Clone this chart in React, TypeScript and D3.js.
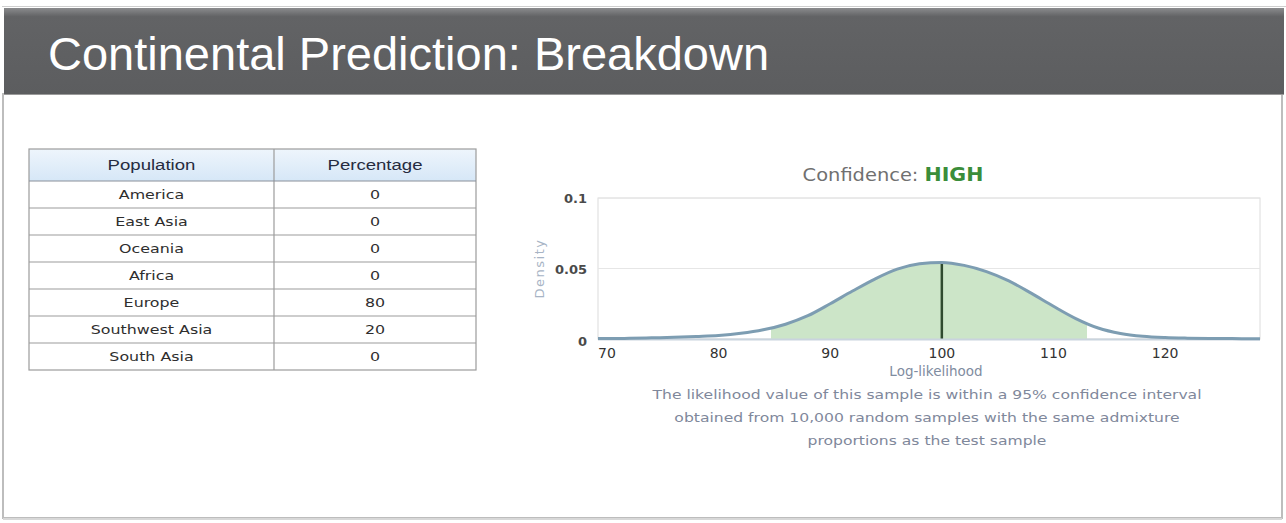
import React from "react";
import * as d3 from "d3";

// table data
const populations = ["America", "East Asia", "Oceania", "Africa", "Europe", "Southwest Asia", "South Asia"];
const percentages = [0, 0, 0, 0, 80, 20, 0];
const tableHeaders = ["Population", "Percentage"];

// density curve
const logLikelihood = [69.2, 70, 72, 74, 76, 78, 80, 82, 84, 86, 88, 90, 92, 94, 96, 98, 100, 102, 104, 106, 108, 110, 112, 114, 116, 118, 120, 122, 124, 126, 128, 128.5];
const density = [0.0003, 0.0003, 0.0005, 0.0008, 0.0012, 0.0018, 0.0025, 0.004, 0.0065, 0.0105, 0.0165, 0.025, 0.034, 0.0425, 0.0495, 0.0533, 0.0543, 0.0522, 0.0478, 0.0412, 0.0325, 0.0232, 0.0145, 0.0078, 0.0039, 0.0019, 0.001, 0.0006, 0.0004, 0.0003, 0.0002, 0.0002];
const ciBounds = [84.7, 113];
const sampleValue = 100;

const xTicks = [70, 80, 90, 100, 110, 120];
const yTicks = [0, 0.05, 0.1];
const yTickLabels = ["0", "0.05", "0.1"];

const captionLines = [
  "The likelihood value of this sample is within a 95% confidence interval",
  "obtained from 10,000 random samples with the same admixture",
  "proportions as the test sample",
];

const W = 1286;
const H = 523;
const plot = { left: 598, right: 1260, top: 198, bottom: 339 };
const table = { left: 29, right: 476, split: 274, top: 149, headerH: 32, rowH: 27 };

const sans = "'DejaVu Sans', Verdana, sans-serif";
const arial = "'Liberation Sans', Arial, sans-serif";

// the screenshot is a little stretched sideways, so the small texts get widened
const Wide = ({ x, y, sx = 1.2, children, ...rest }: any) => (
  <text transform={`translate(${x},${y}) scale(${sx},1)`} textAnchor="middle" {...rest}>
    {children}
  </text>
);

const App = () => {
  const x = d3.scaleLinear().domain([69.2, 128.5]).range([plot.left, plot.right]);
  const y = d3.scaleLinear().domain([0, 0.1]).range([plot.bottom, plot.top]);

  const pts = logLikelihood.map((v, i) => [v, density[i]] as [number, number]);
  const line = d3
    .line<[number, number]>()
    .x(d => x(d[0]))
    .y(d => y(d[1]))
    .curve(d3.curveMonotoneX);
  const area = d3
    .area<[number, number]>()
    .x(d => x(d[0]))
    .y0(y(0))
    .y1(d => y(d[1]))
    .curve(d3.curveMonotoneX);

  const sampleDensity = density[logLikelihood.indexOf(sampleValue)];

  const rowY = d3
    .scaleBand()
    .domain(populations)
    .range([table.top + table.headerH, table.top + table.headerH + populations.length * table.rowH]);
  const tableBottom = rowY.range()[1];
  const colCenters = [(table.left + table.split) / 2, (table.split + table.right) / 2];

  return (
    <svg width={W} height={H} style={{ position: "absolute", left: 0, top: 0, background: "#fff" }}>
      <defs>
        <linearGradient id="bar" x1="0" y1="0" x2="0" y2="1">
          <stop offset="0" stopColor="#8a8b8d" />
          <stop offset="0.1" stopColor="#626365" />
          <stop offset="1" stopColor="#5c5d5f" />
        </linearGradient>
        <linearGradient id="hdr" x1="0" y1="0" x2="0" y2="1">
          <stop offset="0" stopColor="#eef5fc" />
          <stop offset="1" stopColor="#d6e7f7" />
        </linearGradient>
        <clipPath id="ci">
          <rect x={x(ciBounds[0])} y={plot.top} width={x(ciBounds[1]) - x(ciBounds[0])} height={plot.bottom - plot.top} />
        </clipPath>
      </defs>

      {/* frame */}
      <line x1={2} x2={W} y1={6.5} y2={6.5} stroke="#cfcfcf" />
      <rect x={3} y={94} width={1279} height={424} fill="#fff" stroke="#bdbdbd" strokeWidth={2} />
      <line x1={3} x2={1282} y1={519} y2={519} stroke="#d8d8d8" strokeWidth={2} />
      <rect x={4} y={8} width={1280} height={86} fill="url(#bar)" />
      <line x1={4} x2={1284} y1={94.5} y2={94.5} stroke="#9a9a9a" />
      <text x={48} y={70} fill="#fff" fontFamily={arial} fontSize={47}>
        Continental Prediction: Breakdown
      </text>

      {/* table */}
      <rect x={table.left} y={table.top} width={table.right - table.left} height={table.headerH} fill="url(#hdr)" />
      <g fontFamily={arial} fontSize={15} fill="#262b40">
        {tableHeaders.map((h, i) => (
          <Wide key={h} x={colCenters[i]} y={table.top + table.headerH / 2 + 5} sx={1.24}>
            {h}
          </Wide>
        ))}
      </g>
      <g fontFamily={sans} fontSize={13} fill="#2e2e2e">
        {populations.map((p, i) => (
          <g key={p}>
            <Wide x={colCenters[0]} y={(rowY(p) as number) + table.rowH / 2 + 4.5} sx={1.22}>
              {p}
            </Wide>
            <Wide x={colCenters[1]} y={(rowY(p) as number) + table.rowH / 2 + 4.5} sx={1.22}>
              {percentages[i]}
            </Wide>
          </g>
        ))}
      </g>
      <g stroke="#9c9c9c" strokeWidth={1.2} fill="none">
        <rect x={table.left} y={table.top} width={table.right - table.left} height={tableBottom - table.top} />
        <line x1={table.split} x2={table.split} y1={table.top} y2={tableBottom} />
        <line x1={table.left} x2={table.right} y1={table.top + table.headerH} y2={table.top + table.headerH} stroke="#8a9099" />
        {populations.slice(1).map(p => (
          <line key={p} x1={table.left} x2={table.right} y1={rowY(p)} y2={rowY(p)} />
        ))}
      </g>

      {/* chart title */}
      <Wide x={893} y={181} sx={1.08} fontFamily={sans} fontSize={18}>
        <tspan fill="#707070">Confidence: </tspan>
        <tspan fill="#3a8d3a" fontWeight="bold" fontSize={19}>HIGH</tspan>
      </Wide>

      {/* plot frame and grid */}
      <rect x={plot.left} y={plot.top} width={plot.right - plot.left} height={plot.bottom - plot.top} fill="none" stroke="#dcdcdc" />
      {yTicks.map(t => (
        <line key={t} x1={plot.left} x2={plot.right} y1={y(t)} y2={y(t)} stroke="#e6e6e6" />
      ))}

      {/* density */}
      <path d={area(pts) || ""} fill="#cce5c8" clipPath="url(#ci)" />
      <line x1={x(sampleValue)} x2={x(sampleValue)} y1={y(0)} y2={y(sampleDensity)} stroke="#2f4a2f" strokeWidth={2.5} />
      <line x1={plot.left} x2={plot.right} y1={plot.bottom + 0.5} y2={plot.bottom + 0.5} stroke="#c9d4de" strokeWidth={2} />
      <path d={line(pts) || ""} fill="none" stroke="#7d9db2" strokeWidth={3} />

      {/* axes */}
      <g fontFamily={sans} fontSize={13} fontWeight="bold" fill="#4a4a4a" textAnchor="end">
        {yTicks.map((t, i) => (
          <text key={t} x={587} y={y(t) + 5 + (t === 0 ? 2 : 0)}>
            {yTickLabels[i]}
          </text>
        ))}
      </g>
      <g fontFamily={sans} fontSize={14} fill="#333" textAnchor="middle">
        {xTicks.map(t => (
          <text key={t} x={x(t)} y={358}>
            {t}
          </text>
        ))}
      </g>
      <text x={936} y={376} textAnchor="middle" fontFamily={sans} fontSize={13.5} fill="#7f8ca0">
        Log-likelihood
      </text>
      <text
        transform={`translate(${544},${(plot.top + plot.bottom) / 2}) rotate(-90)`}
        textAnchor="middle"
        fontFamily={sans}
        fontSize={13}
        letterSpacing={1.5}
        fill="#a7b4c5"
      >
        Density
      </text>

      {/* caption */}
      <g fontFamily={sans} fontSize={13} fill="#7f889b">
        {captionLines.map((l, i) => (
          <Wide key={i} x={927} y={399 + i * 23} sx={1.2}>
            {l}
          </Wide>
        ))}
      </g>
    </svg>
  );
};

export default App;
